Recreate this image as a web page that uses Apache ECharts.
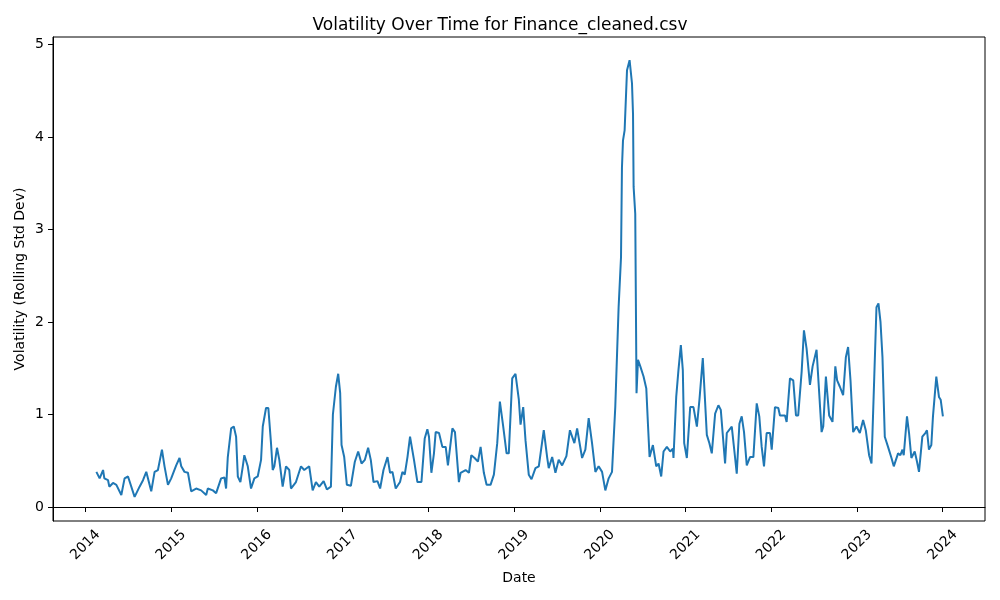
<!DOCTYPE html>
<html>
<head>
<meta charset="utf-8">
<script src="https://cdn.jsdelivr.net/npm/echarts@6/dist/echarts.min.js"></script>
<style>
html, body { margin: 0; padding: 0; background: #fff; }
#chart { width: 1000px; height: 600px; }
</style>
</head>
<body>
<div id="chart"></div>
<script>
// date as decimal year
let years = [
    2014.128, 2014.166, 2014.206, 2014.221, 2014.264, 2014.279, 2014.322, 2014.361, 2014.419, 2014.457,
    2014.497, 2014.574, 2014.594, 2014.632, 2014.672, 2014.710, 2014.768, 2014.807, 2014.846, 2014.893,
    2014.923, 2014.963, 2015.001, 2015.059, 2015.098, 2015.118, 2015.156, 2015.196, 2015.234, 2015.292,
    2015.350, 2015.409, 2015.428, 2015.487, 2015.525, 2015.583, 2015.622, 2015.641, 2015.661, 2015.700,
    2015.731, 2015.758, 2015.778, 2015.808, 2015.836, 2015.854, 2015.894, 2015.932, 2015.971, 2016.010,
    2016.049, 2016.069, 2016.107, 2016.134, 2016.165, 2016.185, 2016.204, 2016.235, 2016.262, 2016.301,
    2016.340, 2016.378, 2016.398, 2016.456, 2016.515, 2016.553, 2016.611, 2016.651, 2016.689, 2016.728,
    2016.779, 2016.817, 2016.864, 2016.887, 2016.922, 2016.949, 2016.972, 2016.988, 2017.019, 2017.050,
    2017.097, 2017.143, 2017.182, 2017.221, 2017.260, 2017.298, 2017.329, 2017.361, 2017.407, 2017.438,
    2017.477, 2017.524, 2017.554, 2017.582, 2017.620, 2017.670, 2017.698, 2017.725, 2017.757, 2017.787,
    2017.833, 2017.873, 2017.920, 2017.958, 2017.989, 2018.008, 2018.036, 2018.066, 2018.086, 2018.125,
    2018.164, 2018.203, 2018.229, 2018.281, 2018.311, 2018.357, 2018.377, 2018.435, 2018.474, 2018.502,
    2018.540, 2018.579, 2018.610, 2018.648, 2018.680, 2018.726, 2018.765, 2018.804, 2018.835, 2018.874,
    2018.913, 2018.939, 2018.979, 2019.017, 2019.056, 2019.076, 2019.107, 2019.134, 2019.172, 2019.204,
    2019.250, 2019.289, 2019.347, 2019.386, 2019.405, 2019.445, 2019.483, 2019.521, 2019.561, 2019.580,
    2019.611, 2019.652, 2019.704, 2019.736, 2019.794, 2019.832, 2019.871, 2019.910, 2019.949, 2019.987,
    2020.027, 2020.065, 2020.104, 2020.143, 2020.181, 2020.220, 2020.248, 2020.259, 2020.271, 2020.290,
    2020.318, 2020.348, 2020.376, 2020.388, 2020.395, 2020.414, 2020.429, 2020.446, 2020.473, 2020.511,
    2020.543, 2020.562, 2020.581, 2020.620, 2020.659, 2020.686, 2020.717, 2020.744, 2020.783, 2020.822,
    2020.853, 2020.860, 2020.892, 2020.918, 2020.946, 2020.969, 2020.985, 2021.016, 2021.055, 2021.093,
    2021.133, 2021.163, 2021.202, 2021.249, 2021.279, 2021.307, 2021.346, 2021.384, 2021.412, 2021.462,
    2021.482, 2021.540, 2021.579, 2021.598, 2021.629, 2021.656, 2021.683, 2021.715, 2021.753, 2021.792,
    2021.831, 2021.861, 2021.889, 2021.916, 2021.947, 2021.986, 2022.006, 2022.044, 2022.083, 2022.102,
    2022.161, 2022.180, 2022.219, 2022.257, 2022.289, 2022.315, 2022.355, 2022.382, 2022.413, 2022.452,
    2022.483, 2022.529, 2022.560, 2022.588, 2022.607, 2022.638, 2022.676, 2022.715, 2022.748, 2022.769,
    2022.801, 2022.839, 2022.871, 2022.897, 2022.925, 2022.956, 2022.995, 2023.034, 2023.072, 2023.103,
    2023.142, 2023.170, 2023.202, 2023.228, 2023.251, 2023.275, 2023.298, 2023.325, 2023.363, 2023.403,
    2023.430, 2023.480, 2023.507, 2023.531, 2023.546, 2023.584, 2023.608, 2023.635, 2023.674, 2023.701,
    2023.724, 2023.763, 2023.798, 2023.817, 2023.840, 2023.868, 2023.887, 2023.926, 2023.957, 2023.977,
    2024.003
];

// rolling std dev
let volatility = [
    0.38, 0.31, 0.40, 0.31, 0.29, 0.22, 0.26, 0.24, 0.13, 0.31,
    0.33, 0.11, 0.10, 0.22, 0.29, 0.38, 0.17, 0.38, 0.40, 0.62,
    0.44, 0.24, 0.31, 0.45, 0.53, 0.44, 0.38, 0.37, 0.17, 0.20,
    0.18, 0.13, 0.20, 0.18, 0.15, 0.31, 0.32, 0.20, 0.54, 0.85,
    0.87, 0.76, 0.33, 0.27, 0.44, 0.56, 0.44, 0.20, 0.31, 0.33,
    0.51, 0.87, 1.07, 1.07, 0.69, 0.40, 0.44, 0.64, 0.51, 0.22,
    0.44, 0.40, 0.20, 0.27, 0.44, 0.40, 0.44, 0.18, 0.27, 0.22,
    0.28, 0.19, 0.22, 1.00, 1.30, 1.44, 1.23, 0.67, 0.54, 0.24,
    0.23, 0.49, 0.60, 0.47, 0.51, 0.64, 0.51, 0.27, 0.28, 0.20,
    0.40, 0.54, 0.37, 0.38, 0.20, 0.27, 0.38, 0.35, 0.54, 0.76,
    0.51, 0.27, 0.27, 0.74, 0.84, 0.76, 0.37, 0.58, 0.81, 0.80,
    0.65, 0.65, 0.45, 0.85, 0.81, 0.27, 0.37, 0.40, 0.37, 0.56,
    0.53, 0.49, 0.65, 0.37, 0.24, 0.24, 0.35, 0.69, 1.14, 0.87,
    0.58, 0.58, 1.39, 1.44, 1.16, 0.89, 1.08, 0.72, 0.35, 0.30,
    0.42, 0.44, 0.83, 0.54, 0.42, 0.54, 0.37, 0.51, 0.45, 0.47,
    0.55, 0.83, 0.69, 0.85, 0.53, 0.62, 0.96, 0.69, 0.38, 0.44,
    0.38, 0.18, 0.31, 0.38, 1.08, 2.16, 2.70, 3.67, 3.96, 4.07,
    4.72, 4.83, 4.58, 4.25, 3.46, 3.17, 1.23, 1.59, 1.52, 1.41,
    1.28, 0.90, 0.54, 0.67, 0.44, 0.47, 0.33, 0.60, 0.65, 0.60,
    0.63, 0.53, 1.19, 1.48, 1.75, 1.48, 0.69, 0.53, 1.08, 1.08,
    0.87, 1.16, 1.61, 0.78, 0.69, 0.58, 1.01, 1.10, 1.05, 0.47,
    0.80, 0.87, 0.53, 0.36, 0.90, 0.98, 0.81, 0.45, 0.54, 0.54,
    1.12, 0.98, 0.65, 0.44, 0.80, 0.80, 0.62, 1.08, 1.07, 0.99,
    0.99, 0.92, 1.39, 1.37, 0.99, 0.99, 1.46, 1.91, 1.71, 1.32,
    1.52, 1.70, 1.23, 0.81, 0.87, 1.41, 0.99, 0.92, 1.52, 1.37,
    1.30, 1.21, 1.62, 1.73, 1.37, 0.81, 0.87, 0.80, 0.94, 0.83,
    0.56, 0.47, 1.40, 2.16, 2.20, 2.00, 1.62, 0.76, 0.65, 0.53,
    0.44, 0.58, 0.56, 0.62, 0.56, 0.98, 0.80, 0.53, 0.60, 0.49,
    0.38, 0.76, 0.80, 0.83, 0.62, 0.67, 0.98, 1.41, 1.19, 1.16,
    0.98
];

// tick labels
let xTicks = [2014, 2015, 2016, 2017, 2018, 2019, 2020, 2021, 2022, 2023, 2024];
let yTicks = [0, 1, 2, 3, 4, 5];

let chart = echarts.init(document.getElementById('chart'));

let font = 'DejaVu Sans';

let option = {
    animation: false,
    backgroundColor: '#fff',
    title: {
        text: 'Volatility Over Time for Finance_cleaned.csv',
        left: 'center',
        top: 12,
        textStyle: { fontFamily: font, fontSize: 17, fontWeight: 'normal', color: '#000' }
    },
    grid: {
        left: 53,
        right: 15,
        top: 37,
        bottom: 79,
        show: true,
        borderColor: '#000',
        borderWidth: 1
    },
    xAxis: {
        type: 'value',
        min: 2013.622,
        max: 2024.494,
        name: 'Date',
        nameLocation: 'middle',
        nameGap: 50,
        nameMoveOverlap: false,
        nameTextStyle: { fontFamily: font, fontSize: 14, color: '#000' },
        splitLine: { show: false },
        axisLine: { lineStyle: { color: '#000', width: 1 } },
        axisTick: { length: 5, lineStyle: { color: '#000' }, customValues: xTicks },
        axisLabel: {
            customValues: xTicks,
            rotate: 45,
            align: 'center',
            verticalAlign: 'middle',
            margin: 24,
            fontFamily: font,
            fontSize: 14,
            color: '#000',
            formatter: v => String(v)
        }
    },
    yAxis: {
        type: 'value',
        min: -0.151,
        max: 5.08,
        name: 'Volatility (Rolling Std Dev)',
        nameLocation: 'middle',
        nameGap: 26,
        nameMoveOverlap: false,
        nameRotate: 90,
        nameTextStyle: { fontFamily: font, fontSize: 14, color: '#000' },
        splitLine: { show: false },
        axisLine: { show: true, lineStyle: { color: '#000', width: 1 } },
        axisTick: { show: true, length: 5, lineStyle: { color: '#000' }, customValues: yTicks },
        axisLabel: {
            customValues: yTicks,
            margin: 9,
            fontFamily: font,
            fontSize: 14,
            color: '#000',
            formatter: v => String(v)
        }
    },
    series: [
        {
            type: 'line',
            data: years.map((t, i) => [t, volatility[i]]),
            showSymbol: false,
            lineStyle: { color: '#1f77b4', width: 2 },
            itemStyle: { color: '#1f77b4' }
        }
    ]
};

chart.setOption(option);
</script>
</body>
</html>
